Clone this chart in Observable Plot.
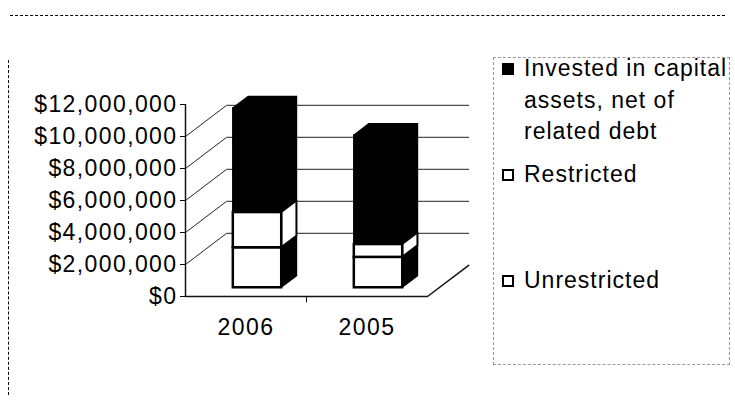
<!DOCTYPE html>
<html>
<head>
<meta charset="utf-8">
<script src="https://cdn.jsdelivr.net/npm/d3@7"></script>
<script src="https://cdn.jsdelivr.net/npm/@observablehq/plot@0.6"></script>
<style>
  html, body { margin: 0; padding: 0; background: #fff; }
  #wrap { position: relative; width: 735px; height: 401px; overflow: hidden;
          font-family: "Liberation Sans", Arial, sans-serif; color: #000; }
  #wrap svg { position: absolute; left: 0; top: 0; }
  .leg { position: absolute; font-size: 23px; line-height: 31.5px; white-space: nowrap; letter-spacing: 1px; }
  .sw { position: absolute; box-sizing: border-box; width: 12px; height: 12px; }
  .deco { position: absolute; box-sizing: border-box; border-color: #9a9a9a; }
</style>
</head>
<body>
<div id="wrap"></div>
<script>
// ---- data ----
const years = ["2006", "2005"];
const unrestricted = [2500000, 1900000];
const restricted = [2200000, 800000];
const invested = [6500000, 6800000];
const yTicks = [0, 2000000, 4000000, 6000000, 8000000, 10000000, 12000000];
const gridValues = [2000000, 4000000, 6000000, 8000000, 10000000];
const seriesNames = ["Invested in capital assets, net of related debt", "Restricted", "Unrestricted"];

// ---- 3D view style (depth expressed in scale units) ----
const DX = 0.34, DY = 1950000;   // full depth of the box
const f1 = 0.28, f2 = 0.65;      // bar front/back depth fractions
const hw = 0.2;                  // half bar width

const segs = [];
years.forEach((yr, i) => {
  const c = i + 0.5;
  const parts = [
    {name: "Unrestricted", v: unrestricted[i], front: "white", side: "black"},
    {name: "Restricted", v: restricted[i], front: "white", side: "white"},
    {name: "Invested", v: invested[i], front: "black", side: "black"}
  ];
  let lo = 0;
  parts.forEach(p => { segs.push({yr, c, name: p.name, lo, hi: lo + p.v, front: p.front, side: p.side}); lo += p.v; });
});
const tops = years.map((yr, i) => ({yr, c: i + 0.5, t: unrestricted[i] + restricted[i] + invested[i]}));

const sidePts = segs.flatMap(d => [f1, f2].map(f => ({
  id: d.yr + d.name, side: d.side,
  x: d.c + hw + f * DX, y1: d.lo + f * DY, y2: d.hi + f * DY
})));
const topPts = tops.flatMap(d => [f1, f2].map(f => ({
  id: d.yr, y: d.t + f * DY, x1: d.c - hw + f * DX, x2: d.c + hw + f * DX
})));
const gridPts = gridValues.flatMap(v => [
  {v, x: 0, y: v}, {v, x: DX, y: v + DY}, {v, x: 2 + DX, y: v + DY}
]);
const floorPts = [{x: 0, y: 0}, {x: 2, y: 0}, {x: 2 + DX, y: DY}];

const frontX1 = d => d.c - hw + f1 * DX;
const frontX2 = d => d.c + hw + f1 * DX;
const frontY1 = d => d.lo + f1 * DY;
const frontY2 = d => d.hi + f1 * DY;

const plot = Plot.plot({
  width: 735, height: 401,
  marginLeft: 185, marginRight: 308, marginTop: 104, marginBottom: 105,
  style: {fontFamily: "'Liberation Sans', Arial, sans-serif", fontSize: "23px", letterSpacing: "1.4px", color: "black", background: "transparent", overflow: "visible"},
  x: {type: "linear", domain: [0, 2], axis: null},
  y: {domain: [0, 12000000], ticks: yTicks, tickFormat: d3.format("$,"), tickSize: 5, tickPadding: 3, label: null},
  marks: [
    Plot.line(gridPts, {x: "x", y: "y", z: "v", stroke: "#222", strokeWidth: 1}),
    Plot.line(floorPts, {x: "x", y: "y", stroke: "#111", strokeWidth: 1.5}),
    Plot.ruleX([0], {y1: 0, y2: 12000000, stroke: "#111", strokeWidth: 1.5}),
    Plot.ruleX([1], {y1: 0, y2: -400000, stroke: "#111", strokeWidth: 1}),
    Plot.areaY(sidePts.filter(d => d.side === "black"), {x: "x", y1: "y1", y2: "y2", z: "id", fill: "black", stroke: "black", strokeWidth: 1.5}),
    Plot.areaY(sidePts.filter(d => d.side === "white"), {x: "x", y1: "y1", y2: "y2", z: "id", fill: "white", stroke: "black", strokeWidth: 2}),
    Plot.areaX(topPts, {y: "y", x1: "x1", x2: "x2", z: "id", fill: "black", stroke: "black", strokeWidth: 1.5}),
    Plot.rect(segs.filter(d => d.front === "black"), {x1: frontX1, x2: frontX2, y1: frontY1, y2: frontY2, fill: "black", stroke: "black", strokeWidth: 1.5}),
    Plot.rect(segs.filter(d => d.front === "white"), {x1: frontX1, x2: frontX2, y1: frontY1, y2: frontY2, fill: "white", stroke: "black", strokeWidth: 2.5}),
    Plot.text(years, {x: (d, i) => i + 0.5, y: 0, dy: 31, text: d => d, fontSize: 23, fill: "black"})
  ]
});
const wrap = document.getElementById("wrap");
wrap.append(plot);

// ---- legend ----
function addDiv(cls, css, html) {
  const el = document.createElement("div");
  el.className = cls;
  Object.assign(el.style, css);
  if (html != null) el.innerHTML = html;
  wrap.append(el);
  return el;
}
// scanned border remnants
addDiv("deco", {left: "10px", top: "15px", width: "715px", height: "0", borderTop: "1px dashed"});
addDiv("deco", {left: "8px", top: "60px", width: "0", height: "335px", borderLeft: "1px dashed"});
addDiv("deco", {left: "493px", top: "57px", width: "237px", height: "308px", border: "1px dashed #9a9a9a"});

const legendTop = [53, 159, 265];
const swatchFill = ["black", "white", "white"];
const legendLines = [["Invested in capital", "assets, net of", "related debt"], [seriesNames[1]], [seriesNames[2]]];
legendLines.forEach((lines, k) => {
  addDiv("sw", {left: "502px", top: (legendTop[k] + 10) + "px", background: swatchFill[k], border: "2px solid black"});
  addDiv("leg", {left: "524px", top: legendTop[k] + "px"}, lines.join("<br>"));
});
</script>
</body>
</html>
